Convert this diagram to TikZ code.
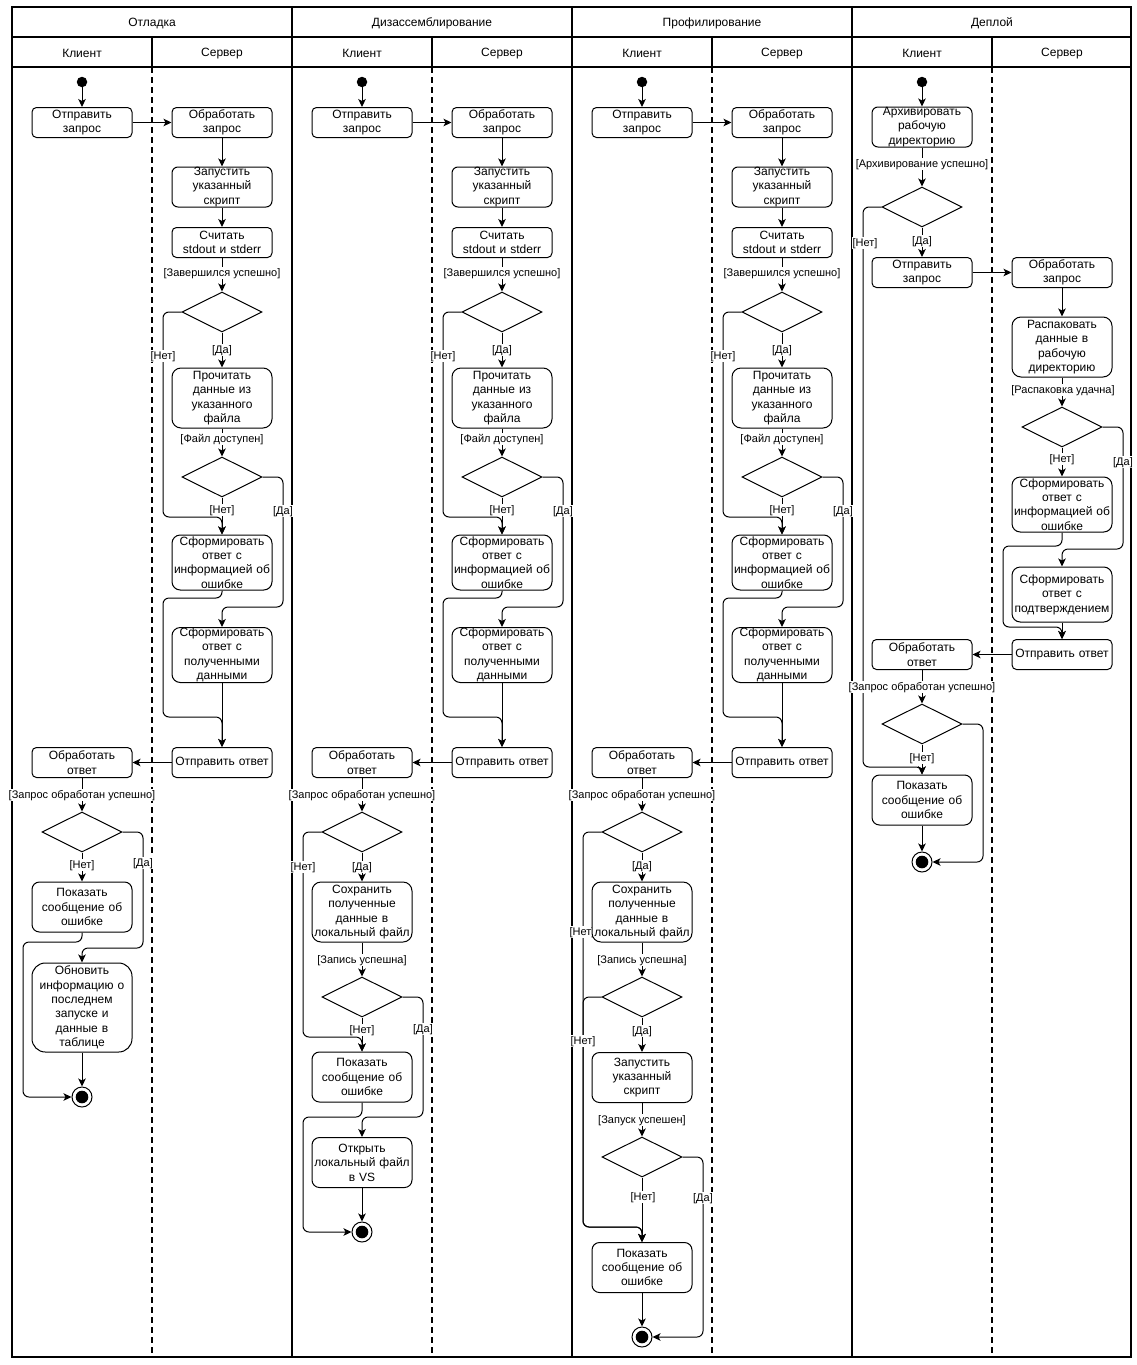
\documentclass[tikz,border=0pt]{standalone}
\usepackage{fontspec}
\setmainfont{Liberation Sans}
\usetikzlibrary{shapes.geometric,arrows.meta}
\pgfdeclarelayer{edges}
\pgfdeclarelayer{labels}
\pgfsetlayers{edges,labels,main}

\tikzset{
  act/.style={draw, fill=white, line width=1pt, rounded corners={0.15*#1pt},
    minimum height=#1pt, text width=100pt, inner xsep=0pt, inner ysep=0pt,
    align=center, font=\fontsize{12}{14.4}\selectfont},
  dec/.style={draw, fill=white, diamond, minimum width=80pt, minimum height=40pt,
    inner sep=0pt, line width=1pt},
  initnode/.style={circle, fill=black, minimum size=10.5pt, inner sep=0pt},
  finalnode/.style={circle, draw, fill=white, line width=1pt, minimum size=20pt, inner sep=0pt,
    path picture={\fill[black] (path picture bounding box.center) circle (6.3pt);}},
  flow/.style={line width=1pt, rounded corners=6pt,
    -{Stealth[length=8pt,width=7.5pt,inset=2pt]}},
  lbl/.style={fill=white, inner sep=0.8pt, yshift=-1.2pt, font=\fontsize{11}{13}\selectfont},
  head/.style={yshift=-1.5pt, font=\fontsize{12}{14}\selectfont},
  lane/.style={line width=2pt, dash pattern=on 6pt off 4pt},
  poolline/.style={line width=1.2pt},
}

% Request handling shared by the debugging, disassembly and profiling pools
\newcommand\serverpart[1]{%
  \node[initnode] (#1start) at (82,82) {};
  \node[act=30] (#1send) at (82,122.5) {Отправить\\запрос};
  \node[act=30] (#1recv) at (222,122.5) {Обработать\\запрос};
  \node[act=40] (#1run) at (222,187) {Запустить\\указанный\\скрипт};
  \node[act=30] (#1read) at (222,242.5) {Считать\\stdout и stderr};
  \node[dec] (#1dA) at (222,312) {};
  \node[act=60] (#1file) at (222,398) {Прочитать\\данные из\\указанного\\файла};
  \node[dec] (#1dB) at (222,477) {};
  \node[act=55] (#1err) at (222,562.5) {Сформировать\\ответ с\\информацией об\\ошибке};
  \node[act=55] (#1data) at (222,655) {Сформировать\\ответ с\\полученными\\данными};
  \node[act=30] (#1reply) at (222,762.5) {Отправить ответ};
  \node[act=30] (#1handle) at (82,762.5) {Обработать\\ответ};
  \node[dec] (#1dC) at (82,832) {};
  \begin{pgfonlayer}{edges}
    \draw[flow] (#1start) -- (#1send);
    \draw[flow] (#1send) -- (#1recv);
    \draw[flow] (#1recv) -- (#1run);
    \draw[flow] (#1run) -- (#1read);
    \draw[flow] (#1read) -- (#1dA);
    \draw[flow] (#1dA) -- (#1file);
    \draw[flow] (#1file) -- (#1dB);
    \draw[flow] (#1dB) -- (#1err);
    \draw[flow] (#1dA.west) -| (163,517) -| (#1err.north);
    \draw[flow] (#1dB.east) -| (283,607) -| (#1data.north);
    \draw[flow] (#1err.south) -- (222,598) -| (163,717) -| (#1reply.north);
    \draw[flow] (#1data) -- (#1reply);
    \draw[flow] (#1reply) -- (#1handle);
    \draw[flow] (#1handle) -- (#1dC);
  \end{pgfonlayer}
  \begin{pgfonlayer}{labels}
    \node[lbl] (#1lA) at (222,272) {[Завершился успешно]};
    \node[lbl] (#1lB) at (163,355) {[Нет]};
    \node[lbl] (#1lC) at (222,349) {[Да]};
    \node[lbl] (#1lD) at (222,438) {[Файл доступен]};
    \node[lbl] (#1lE) at (222,509) {[Нет]};
    \node[lbl] (#1lF) at (283,510) {[Да]};
    \node[lbl] (#1lG) at (82,794) {[Запрос обработан успешно]};
  \end{pgfonlayer}
}

\begin{document}
\begin{tikzpicture}[x=1pt, y=-1pt]
\useasboundingbox (0,0) rectangle (1137,1365);

% Pools, lanes and headers
\begin{pgfonlayer}{edges}
  \draw[poolline] (12,7) rectangle (1131,1357);
  \draw[poolline] (12,37) -- (1131,37);
  \draw[poolline] (12,67) -- (1131,67);
  \foreach \x in {292,572,852} \draw[poolline] (\x,7) -- (\x,1357);
  \foreach \x in {152,432,712,992} {
    \draw[poolline] (\x,37) -- (\x,67);
    \draw[lane] (\x,67) -- (\x,1357);
  }
\end{pgfonlayer}
\node[head] (tDebug) at (152,22) {Отладка};
\node[head] (tDisasm) at (432,22) {Дизассемблирование};
\node[head] (tProf) at (712,22) {Профилирование};
\node[head] (tDeploy) at (992,22) {Деплой};
\foreach \x/\n in {0/a,280/b,560/c,840/d} {
  \node[head] (client\n) at (82+\x,52) {Клиент};
  \node[head] (server\n) at (222+\x,52) {Сервер};
}

% ---------- Отладка ----------
\begin{scope}
  \serverpart{a}
  \node[act=50] (aShow) at (82,907) {Показать\\сообщение об\\ошибке};
  \node[act=89] (aUpd) at (82,1007.5) {Обновить\\информацию о\\последнем\\запуске и\\данные в\\таблице};
  \node[finalnode] (aEnd) at (82,1097) {};
  \begin{pgfonlayer}{edges}
    \draw[flow] (adC) -- (aShow);
    \draw[flow] (adC.east) -| (143,948) -| (aUpd.north);
    \draw[flow] (aShow.south) -- (82,942) -| (23,1097) -- (aEnd.west);
    \draw[flow] (aUpd) -- (aEnd);
  \end{pgfonlayer}
  \begin{pgfonlayer}{labels}
    \node[lbl] (aL1) at (82,864) {[Нет]};
    \node[lbl] (aL2) at (143,862) {[Да]};
  \end{pgfonlayer}
\end{scope}

% ---------- Дизассемблирование ----------
\begin{scope}[xshift=280pt]
  \serverpart{b}
  \node[act=60] (bSave) at (82,912) {Сохранить\\полученные\\данные в\\локальный файл};
  \node[dec] (bdD) at (82,997) {};
  \node[act=50] (bShow) at (82,1077) {Показать\\сообщение об\\ошибке};
  \node[act=50] (bOpen) at (82,1162.5) {Открыть\\локальный файл\\в VS};
  \node[finalnode] (bEnd) at (82,1232) {};
  \begin{pgfonlayer}{edges}
    \draw[flow] (bdC) -- (bSave);
    \draw[flow] (bSave) -- (bdD);
    \draw[flow] (bdD) -- (bShow);
    \draw[flow] (bdC.west) -| (23,1037) -| (bShow.north);
    \draw[flow] (bdD.east) -| (143,1117) -| (bOpen.north);
    \draw[flow] (bShow.south) -- (82,1117) -| (23,1232) -- (bEnd.west);
    \draw[flow] (bOpen) -- (bEnd);
  \end{pgfonlayer}
  \begin{pgfonlayer}{labels}
    \node[lbl] (bL1) at (23,866) {[Нет]};
    \node[lbl] (bL2) at (82,866) {[Да]};
    \node[lbl] (bL3) at (82,959) {[Запись успешна]};
    \node[lbl] (bL4) at (82,1029) {[Нет]};
    \node[lbl] (bL5) at (143,1028) {[Да]};
  \end{pgfonlayer}
\end{scope}

% ---------- Профилирование ----------
\begin{scope}[xshift=560pt]
  \serverpart{c}
  \node[act=60] (cSave) at (82,912) {Сохранить\\полученные\\данные в\\локальный файл};
  \node[dec] (cdD) at (82,997) {};
  \node[act=50] (cRun) at (82,1077.5) {Запустить\\указанный\\скрипт};
  \node[dec] (cdE) at (82,1157) {};
  \node[act=50] (cShow) at (82,1267.5) {Показать\\сообщение об\\ошибке};
  \node[finalnode] (cEnd) at (82,1337) {};
  \begin{pgfonlayer}{edges}
    \draw[flow] (cdC) -- (cSave);
    \draw[flow] (cSave) -- (cdD);
    \draw[flow] (cdD) -- (cRun);
    \draw[flow] (cRun) -- (cdE);
    \draw[flow] (cdE) -- (cShow);
    \draw[flow] (cShow) -- (cEnd);
    \draw[flow] (cdC.west) -| (23,1227) -| (cShow.north);
    \draw[flow] (cdD.west) -| (23,1227) -| (cShow.north);
    \draw[flow] (cdE.east) -| (143,1337) -- (cEnd.east);
  \end{pgfonlayer}
  \begin{pgfonlayer}{labels}
    \node[lbl] (cL1) at (82,865) {[Да]};
    \node[lbl] (cL2) at (22,931) {[Нет]};
    \node[lbl] (cL3) at (82,959) {[Запись успешна]};
    \node[lbl] (cL4) at (82,1030) {[Да]};
    \node[lbl] (cL5) at (23,1040) {[Нет]};
    \node[lbl] (cL6) at (82,1119) {[Запуск успешен]};
    \node[lbl] (cL7) at (83,1196) {[Нет]};
    \node[lbl] (cL8) at (143,1197) {[Да]};
  \end{pgfonlayer}
\end{scope}

% ---------- Деплой ----------
\begin{scope}[xshift=840pt]
  \node[initnode] (dStart) at (82,82) {};
  \node[act=40] (dArch) at (82,127) {Архивировать\\рабочую\\директорию};
  \node[dec] (ddA) at (82,207) {};
  \node[act=30] (dSend) at (82,272.5) {Отправить\\запрос};
  \node[act=30] (dRecv) at (222,272.5) {Обработать\\запрос};
  \node[act=60] (dUnpack) at (222,347) {Распаковать\\данные в\\рабочую\\директорию};
  \node[dec] (ddB) at (222,427) {};
  \node[act=55] (dErr) at (222,504.5) {Сформировать\\ответ с\\информацией об\\ошибке};
  \node[act=55] (dConf) at (222,594.5) {Сформировать\\ответ с\\подтверждением};
  \node[act=30] (dReply) at (222,654.5) {Отправить ответ};
  \node[act=30] (dHandle) at (82,654.5) {Обработать\\ответ};
  \node[dec] (ddC) at (82,724) {};
  \node[act=50] (dShow) at (82,800) {Показать\\сообщение об\\ошибке};
  \node[finalnode] (dEnd) at (82,862) {};
  \begin{pgfonlayer}{edges}
    \draw[flow] (dStart) -- (dArch);
    \draw[flow] (dArch) -- (ddA);
    \draw[flow] (ddA) -- (dSend);
    \draw[flow] (dSend) -- (dRecv);
    \draw[flow] (dRecv) -- (dUnpack);
    \draw[flow] (dUnpack) -- (ddB);
    \draw[flow] (ddB) -- (dErr);
    \draw[flow] (ddA.west) -| (23,767) -| (dShow.north);
    \draw[flow] (ddB.east) -| (283,549) -| (dConf.north);
    \draw[flow] (dErr.south) -- (222,546) -| (163,627) -| (dReply.north);
    \draw[flow] (dConf) -- (dReply);
    \draw[flow] (dReply) -- (dHandle);
    \draw[flow] (dHandle) -- (ddC);
    \draw[flow] (ddC) -- (dShow);
    \draw[flow] (dShow) -- (dEnd);
    \draw[flow] (ddC.east) -| (143,862) -- (dEnd.east);
  \end{pgfonlayer}
  \begin{pgfonlayer}{labels}
    \node[lbl] (dL1) at (82,163) {[Архивирование успешно]};
    \node[lbl] (dL2) at (25,242) {[Нет]};
    \node[lbl] (dL3) at (82,240) {[Да]};
    \node[lbl] (dL4) at (223,389) {[Распаковка удачна]};
    \node[lbl] (dL5) at (222,458) {[Нет]};
    \node[lbl] (dL6) at (283,461) {[Да]};
    \node[lbl] (dL7) at (82,686) {[Запрос обработан успешно]};
    \node[lbl] (dL8) at (82,757) {[Нет]};
  \end{pgfonlayer}
\end{scope}
\end{tikzpicture}
\end{document}
